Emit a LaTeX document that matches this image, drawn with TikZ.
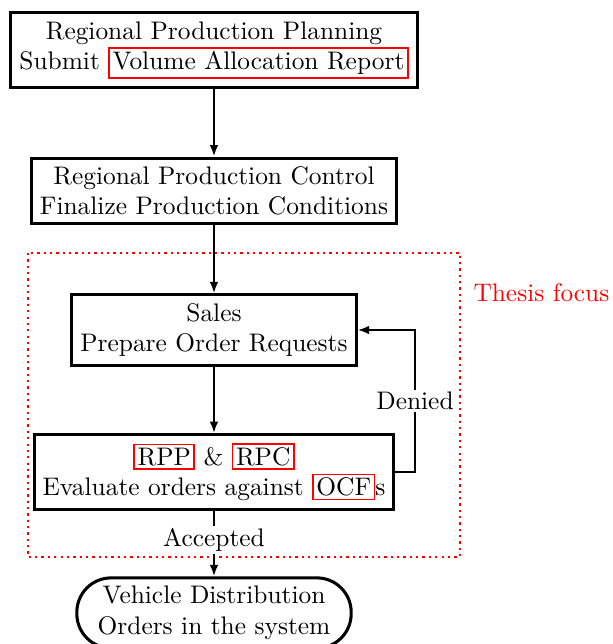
\documentclass[tikz,border=0pt]{standalone}
\usetikzlibrary{arrows.meta}
\newcommand\redbox[1]{{\fboxsep=1pt\fboxrule=0.65pt\fcolorbox{red}{white}{#1}}}
\tikzset{
  stepbox/.style={draw, line width=1.2pt, align=center, fill=white},
  endbox/.style={draw, line width=1.2pt, align=center, fill=white, rounded corners=13.5pt, minimum width=108pt},
  conn/.style={line width=0.85pt, -{Latex[length=4.5pt,width=3.4pt]}},
  focus/.style={red, line width=0.9pt, dash pattern=on 0.9pt off 1.6pt},
  lbl/.style={fill=white, inner sep=1pt}
}
\begin{document}
\begin{tikzpicture}[x=0.3937pt, y=-0.3937pt]
\useasboundingbox (0,0) rectangle (612,644);
\draw[focus] (28,253) rectangle (460,557);
\node[red, anchor=west, inner sep=0pt] (tf) at (473,293) {Thesis focus};
\node[stepbox] (b1) at (214,50) {Regional Production Planning\\Submit \redbox{Volume Allocation Report}};
\node[stepbox] (b2) at (214,191) {Regional Production Control\\Finalize Production Conditions};
\node[stepbox] (b3) at (214,330) {Sales\\Prepare Order Requests};
\node[stepbox] (b4) at (214,472) {\redbox{RPP} \& \redbox{RPC}\\Evaluate orders against \redbox{OCF}s};
\node[endbox] (b5) at (214,613) {Vehicle Distribution\\Orders in the system};
\coordinate (fb) at (415,472);
\coordinate (ft) at (415,330);
\draw[conn] (b1) -- (b2);
\draw[conn] (b2) -- (b3);
\draw[conn] (b3) -- (b4);
\draw[conn] (b4.east |- fb) -- (fb) -- node[lbl] {Denied} (ft) -- (b3.east |- ft);
\draw[conn] (b4) -- node[lbl, pos=0.45] {Accepted} (b5);
\end{tikzpicture}
\end{document}
